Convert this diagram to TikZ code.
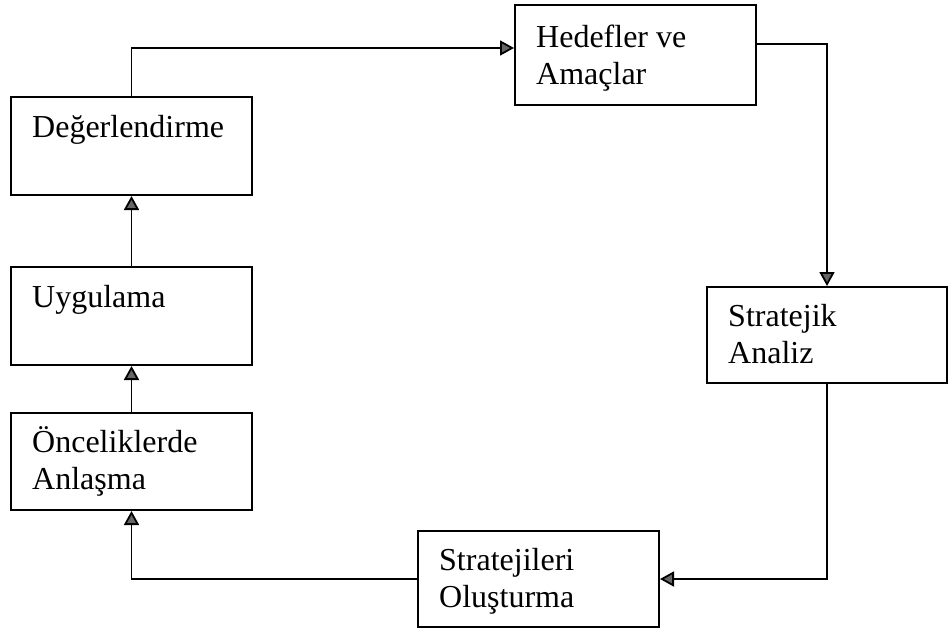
\documentclass[tikz,border=0pt]{standalone}
\usepackage{fontspec}
\setmainfont{Liberation Serif}
\usetikzlibrary{arrows.meta}
\begin{document}
\begin{tikzpicture}[x=1pt,y=-1pt,
  box/.style={draw=black,line width=2pt,minimum width=241pt,minimum height=98pt,inner sep=0pt},
  lbl/.style={font=\fontsize{32}{37}\selectfont,anchor=base west,inner sep=0pt,align=left},
  link/.style={line width=1.8pt,-{Triangle[length=14pt,width=15pt,fill=black!60]}}]
\useasboundingbox (0,0) rectangle (948,629);

% process boxes
\node[box] (deg) at (131.5,146) {};
\node[box] (uyg) at (131.5,316) {};
\node[box,minimum height=97pt] (onc) at (131.5,461.5) {};
\node[box,minimum height=100pt] (hed) at (635.5,55) {};
\node[box,minimum width=240pt,minimum height=96pt] (str) at (827,335) {};
\node[box,minimum height=96pt] (sto) at (538.5,579) {};

% box texts (base anchor sits on the last line of two-line texts)
\node[lbl] (tdeg) at ([xshift=22pt,yshift=-41pt]deg.north west) {Değerlendirme};
\node[lbl] (tuyg) at ([xshift=22pt,yshift=-41pt]uyg.north west) {Uygulama};
\node[lbl] (tonc) at ([xshift=22pt,yshift=-77pt]onc.north west) {Önceliklerde\\Anlaşma};
\node[lbl] (thed) at ([xshift=22pt,yshift=-80pt]hed.north west) {Hedefler ve\\Amaçlar};
\node[lbl] (tstr) at ([xshift=22pt,yshift=-77pt]str.north west) {Stratejik\\Analiz};
\node[lbl] (tsto) at ([xshift=22pt,yshift=-77pt]sto.north west) {Stratejileri\\Oluşturma};

% cycle of connectors
\draw[link] (deg.north) |- ([yshift=7pt]hed.west);
\draw[link] ([yshift=11pt]hed.east) -| (str.north);
\draw[link] (str.south) |- (sto.east);
\draw[link] (sto.west) -| (onc.south);
\draw[link] (onc.north) -- (uyg.south);
\draw[link] (uyg.north) -- (deg.south);
\end{tikzpicture}
\end{document}
